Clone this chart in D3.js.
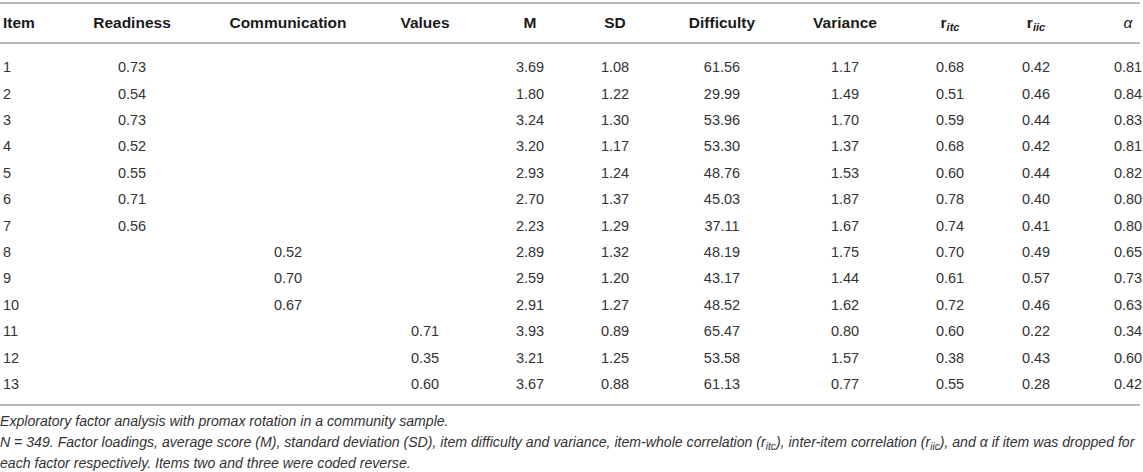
<!DOCTYPE html>
<html>
<head>
<meta charset="utf-8">
<script src="https://cdn.jsdelivr.net/npm/d3@7"></script>
<style>
  body { margin: 0; background: #fff; }
  svg { display: block; font-family: "Liberation Sans", Arial, Helvetica, sans-serif; }
</style>
</head>
<body>
<svg id="table" width="1143" height="472"></svg>
<script>
// table values, one array per column
const items = ['1','2','3','4','5','6','7','8','9','10','11','12','13'];
const readiness = [0.73, 0.54, 0.73, 0.52, 0.55, 0.71, 0.56, null, null, null, null, null, null];
const communication = [null, null, null, null, null, null, null, 0.52, 0.70, 0.67, null, null, null];
const values = [null, null, null, null, null, null, null, null, null, null, 0.71, 0.35, 0.60];
const M = [3.69, 1.80, 3.24, 3.20, 2.93, 2.70, 2.23, 2.89, 2.59, 2.91, 3.93, 3.21, 3.67];
const SD = [1.08, 1.22, 1.30, 1.17, 1.24, 1.37, 1.29, 1.32, 1.20, 1.27, 0.89, 1.25, 0.88];
const difficulty = [61.56, 29.99, 53.96, 53.30, 48.76, 45.03, 37.11, 48.19, 43.17, 48.52, 65.47, 53.58, 61.13];
const variance = [1.17, 1.49, 1.70, 1.37, 1.53, 1.87, 1.67, 1.75, 1.44, 1.62, 0.80, 1.57, 0.77];
const ritc = [0.68, 0.51, 0.59, 0.68, 0.60, 0.78, 0.74, 0.70, 0.61, 0.72, 0.60, 0.38, 0.55];
const riic = [0.42, 0.46, 0.44, 0.42, 0.44, 0.40, 0.41, 0.49, 0.57, 0.46, 0.22, 0.43, 0.28];
const alpha = [0.81, 0.84, 0.83, 0.81, 0.82, 0.80, 0.80, 0.65, 0.73, 0.63, 0.34, 0.60, 0.42];

// header labels: [main text, subscript]
const headers = [['Item'], ['Readiness'], ['Communication'], ['Values'], ['M'], ['SD'],
    ['Difficulty'], ['Variance'], ['r', 'itc'], ['r', 'iic'], ['α']];
const columns = [items, readiness, communication, values, M, SD, difficulty, variance, ritc, riic, alpha];

const notes = [
    'Exploratory factor analysis with promax rotation in a community sample.',
    'N = 349. Factor loadings, average score (M), standard deviation (SD), item difficulty and variance, item-whole correlation (r|itc|), inter-item correlation (r|iic|), and α if item was dropped for',
    'each factor respectively. Items two and three were coded reverse.'
];

const svg = d3.select('#table');

// column centres (first column is left aligned)
const x = d3.scaleOrdinal()
    .domain(d3.range(columns.length))
    .range([3, 132, 288, 425, 530, 615, 722, 845, 950, 1036, 1128]);

const y = d3.scalePoint()
    .domain(items)
    .range([67, 383.8]);

// rules
const rules = [3, 43, 405];
svg.selectAll('line.rule')
    .data(rules)
    .join('line')
    .attr('class', 'rule')
    .attr('x1', 0)
    .attr('x2', 1140)
    .attr('y1', d => d)
    .attr('y2', d => d)
    .attr('stroke', '#b9b9b9')
    .attr('stroke-width', 2);

// header row
const head = svg.selectAll('text.head')
    .data(headers)
    .join('text')
    .attr('class', 'head')
    .attr('x', (d, i) => x(i))
    .attr('y', 22)
    .attr('dy', '0.36em')
    .attr('text-anchor', (d, i) => i === 0 ? 'start' : 'middle')
    .attr('font-size', 15.5)
    .attr('font-weight', d => d[0] === 'α' ? 'normal' : 'bold')
    .attr('font-style', d => d[0] === 'α' ? 'italic' : 'normal')
    .attr('fill', '#1a1a1a');

head.append('tspan').text(d => d[0]);
head.filter(d => d.length > 1)
    .append('tspan')
    .attr('font-size', 11)
    .attr('font-style', 'italic')
    .attr('dy', 3)
    .text(d => d[1]);

// body cells
const cells = [];
columns.forEach((col, c) => {
    col.forEach((v, r) => {
        if (v === null) return;
        cells.push({ c, item: items[r], text: c === 0 ? v : d3.format('.2f')(v) });
    });
});

svg.selectAll('text.cell')
    .data(cells)
    .join('text')
    .attr('class', 'cell')
    .attr('x', d => x(d.c))
    .attr('y', d => y(d.item))
    .attr('dy', '0.36em')
    .attr('text-anchor', d => d.c === 0 ? 'start' : 'middle')
    .attr('font-size', 14.5)
    .attr('fill', '#333')
    .text(d => d.text);

// footnotes, "|" marks a subscript
const foot = svg.selectAll('text.note')
    .data(notes)
    .join('text')
    .attr('class', 'note')
    .attr('x', 0)
    .attr('y', (d, i) => 421 + i * 21)
    .attr('dy', '0.36em')
    .attr('font-size', 13)
    .attr('font-style', 'italic')
    .attr('fill', '#333');

foot.each(function (d) {
    const t = d3.select(this);
    d.split('|').forEach((part, k) => {
        const span = t.append('tspan').text(part);
        if (k % 2 === 1) span.attr('font-size', '0.72em').attr('dy', 3);
        else if (k > 0) span.attr('dy', -3);
    });
});

// the long second line runs almost to the right edge
const longest = foot.filter((d, i) => i === 1).node().getComputedTextLength();
foot.attr('font-size', 13 * 1136 / longest);
</script>
</body>
</html>
